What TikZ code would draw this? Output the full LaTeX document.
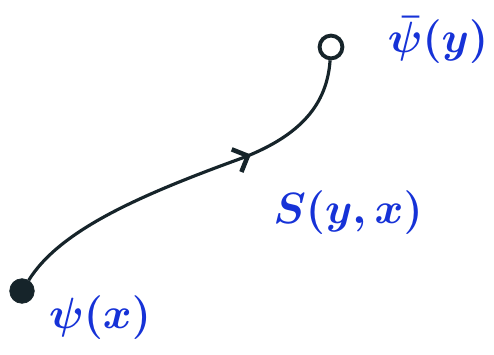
\documentclass[tikz,border=0pt]{standalone}
\usetikzlibrary{arrows.meta,decorations.markings}
\definecolor{ink}{RGB}{22,36,42}
\definecolor{pen}{RGB}{22,50,215}
\tikzset{
  lbl/.style={text=pen,font=\fontsize{24}{28}\selectfont\boldmath,inner sep=0pt},
  srcdot/.style={circle,fill=ink,draw=ink,minimum size=14pt,inner sep=0pt},
  sinkdot/.style={circle,draw=ink,line width=2.2pt,minimum size=13pt,inner sep=0pt},
  prop/.style={draw=ink,line width=1.8pt,
    postaction={decorate},
    decoration={markings,mark=at position 0.665 with {\arrow[ink,line width=2.6pt]{Straight Barb[length=7pt,width=14pt]}}}}
}
\begin{document}
\begin{tikzpicture}[x=0.02cm,y=-0.02cm]
\useasboundingbox (0,0) rectangle (494,355);
\node[srcdot] (a) at (22,291) {};
\node[sinkdot] (b) at (331,47) {};
\draw[prop] (a) .. controls (60,230) and (140,195) .. (245,157) .. controls (300,135) and (327,105) .. (b);
\node[lbl] (lx) at (100,318) {$\psi(x)$};
\node[lbl] (ly) at (438,40) {$\bar\psi(y)$};
\node[lbl] (ls) at (348,213) {$S(y,x)$};
\end{tikzpicture}
\end{document}
